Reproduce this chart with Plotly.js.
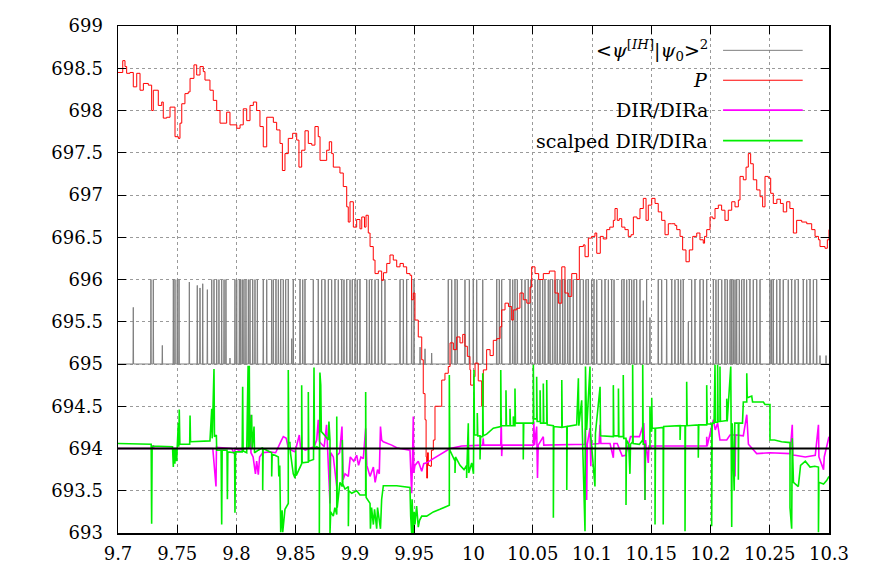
<!DOCTYPE html>
<html>
<head>
<meta charset="utf-8">
<script src="https://cdn.plot.ly/plotly-3.0.1.min.js"></script>
<style>html,body{margin:0;padding:0;background:#fff;}#chart{width:872px;height:580px;}</style>
</head>
<body>
<div id="chart"></div>
<script>
// ---------- data ----------
var xTickVals = [9.7, 9.75, 9.8, 9.85, 9.9, 9.95, 10, 10.05, 10.1, 10.15, 10.2, 10.25, 10.3];
var xTickText = ["9.7", "9.75", "9.8", "9.85", "9.9", "9.95", "10", "10.05", "10.1", "10.15", "10.2", "10.25", "10.3"];
var yTickVals = [693, 693.5, 694, 694.5, 695, 695.5, 696, 696.5, 697, 697.5, 698, 698.5, 699];
var yTickText = ["693", "693.5", "694", "694.5", "695", "695.5", "696", "696.5", "697", "697.5", "698", "698.5", "699"];

var seriesNames = ["&lt;<i>ψ</i><sup>[<i>IH</i>]</sup>|<i>ψ</i><sub>0</sub>&gt;<sup>2</sup>", "<i>P</i>", "DIR/DIRa", "scalped DIR/DIRa"];

// gray: overlap spikes (time, peak); baseline level
var grayBase = 695;
var grayT = [
 9.7129, 9.7278, 9.7298, 9.7374, 9.7467, 9.7481, 9.7500, 9.7515, 9.7602, 9.7669,
 9.7692, 9.7715, 9.7754, 9.7791, 9.7810, 9.7833, 9.7852, 9.7875, 9.7895, 9.7911,
 9.7945, 9.7987, 9.8002, 9.8024, 9.8035, 9.8049, 9.8063, 9.8080, 9.8100, 9.8114,
 9.8137, 9.8156, 9.8176, 9.8226, 9.8255, 9.8297, 9.8311, 9.8333, 9.8353, 9.8373,
 9.8395, 9.8415, 9.8437, 9.8466, 9.8479, 9.8536, 9.8559, 9.8578, 9.8648, 9.8690,
 9.8719, 9.8747, 9.8775, 9.8803, 9.8831, 9.8859, 9.8888, 9.8907, 9.8930, 9.8958,
 9.8977, 9.9000, 9.9019, 9.9042, 9.9099, 9.9121, 9.9141, 9.9169, 9.9197, 9.9225,
 9.9253, 9.9380, 9.9408, 9.9436, 9.9478, 9.9498, 9.9549, 9.9591, 9.9647, 9.9787,
 9.9816, 9.9844, 9.9863, 9.9928, 9.9965, 9.9998, 10.0027, 10.0078, 10.0196, 10.0218,
 10.0238, 10.0308, 10.0331, 10.0350, 10.0370, 10.0407, 10.0435, 10.0462, 10.0483, 10.0519,
 10.0542, 10.0561, 10.0584, 10.0603, 10.0631, 10.0646, 10.0668, 10.0688, 10.0707, 10.0730,
 10.0753, 10.0772, 10.0795, 10.0814, 10.0842, 10.0871, 10.0899, 10.0927, 10.0949, 10.0969,
 10.0997, 10.1017, 10.1040, 10.1082, 10.1110, 10.1138, 10.1166, 10.1186, 10.1251, 10.1270,
 10.1293, 10.1315, 10.1335, 10.1354, 10.1377, 10.1405, 10.1433, 10.1461, 10.1489, 10.1559,
 10.1588, 10.1630, 10.1673, 10.1700, 10.1728, 10.1749, 10.1770, 10.1813, 10.1841, 10.1869,
 10.1911, 10.1939, 10.1968, 10.2024, 10.2046, 10.2066, 10.2095, 10.2122, 10.2142, 10.2165,
 10.2179, 10.2192, 10.2207, 10.2221, 10.2243, 10.2263, 10.2283, 10.2305, 10.2333, 10.2361,
 10.2390, 10.2418, 10.2502, 10.2516, 10.2530, 10.2559, 10.2586, 10.2614, 10.2656, 10.2685,
 10.2713, 10.2741, 10.2783, 10.2812, 10.2840, 10.2868, 10.2896, 10.2924, 10.2975
];
var grayH = [
 695.67, 696, 696, 695.22, 696, 696, 696, 696, 695.97, 695.93,
 695.9, 695.95, 695.88, 696, 696, 696, 696, 696, 696, 696,
 695.07, 696, 696, 696, 696, 696, 696, 696, 696, 696,
 696, 696, 696, 696, 696, 696, 696, 696, 696, 696,
 696, 696, 696, 695.3, 696, 696, 696, 696, 696, 696,
 696, 696, 696, 696, 696, 696, 696, 696, 696, 696,
 696, 696, 696, 696, 696, 696, 696, 696, 696, 696,
 696, 696, 696, 696, 696, 696, 695.2, 695.18, 695.13, 696,
 696, 696, 696, 696, 696, 696, 696, 696, 696, 696,
 696, 696, 696, 696, 696, 696, 696, 696, 696, 696,
 696, 696, 696, 696, 696, 696, 696, 696, 696, 696,
 696, 696, 696, 696, 696, 696, 696, 696, 696, 696,
 696, 696, 696, 696, 696, 696, 696, 696, 696, 696,
 696, 696, 696, 696, 696, 696, 695.75, 696, 695.55, 696,
 696, 696, 696, 696, 696, 696, 696, 695.5, 696, 696,
 696, 696, 696, 696, 696, 696, 696, 696, 696, 696,
 696, 696, 696, 696, 696, 696, 696, 696, 696, 696,
 696, 696, 696, 696, 696, 696, 696, 696, 696, 696,
 696, 696, 696, 696, 696, 696, 696, 695.1, 695.1
];

// red: P
var pX = [
 9.7000, 9.7040, 9.7059, 9.7073, 9.7101, 9.7129, 9.7158, 9.7186, 9.7214, 9.7256,
 9.7284, 9.7298, 9.7340, 9.7369, 9.7382, 9.7411, 9.7439, 9.7481, 9.7509, 9.7523,
 9.7538, 9.7565, 9.7593, 9.7608, 9.7641, 9.7664, 9.7692, 9.7720, 9.7734, 9.7776,
 9.7804, 9.7833, 9.7861, 9.7917, 9.7945, 9.8002, 9.8030, 9.8057, 9.8086, 9.8114,
 9.8142, 9.8170, 9.8198, 9.8226, 9.8255, 9.8311, 9.8339, 9.8367, 9.8387, 9.8409,
 9.8437, 9.8474, 9.8508, 9.8527, 9.8550, 9.8578, 9.8606, 9.8635, 9.8662, 9.8690,
 9.8705, 9.8761, 9.8783, 9.8803, 9.8817, 9.8873, 9.8901, 9.8930, 9.8943, 9.8958,
 9.8986, 9.9014, 9.9042, 9.9057, 9.9080, 9.9093, 9.9112, 9.9127, 9.9154, 9.9169,
 9.9197, 9.9225, 9.9240, 9.9268, 9.9295, 9.9323, 9.9352, 9.9380, 9.9408, 9.9436,
 9.9464, 9.9478, 9.9492, 9.9506, 9.9534, 9.9563, 9.9576, 9.9591, 9.9600, 9.9605,
 9.9612, 9.9619, 9.9633, 9.9645, 9.9661, 9.9675, 9.9703, 9.9732, 9.9759, 9.9787,
 9.9802, 9.9830, 9.9858, 9.9886, 9.9909, 9.9928, 9.9948, 9.9970, 9.9976, 10.0000,
 10.0013, 10.0040, 10.0069, 10.0083, 10.0111, 10.0140, 10.0167, 10.0196, 10.0224, 10.0238,
 10.0266, 10.0295, 10.0322, 10.0336, 10.0365, 10.0392, 10.0420, 10.0450, 10.0477, 10.0491,
 10.0519, 10.0550, 10.0589, 10.0640, 10.0688, 10.0716, 10.0745, 10.0772, 10.0800, 10.0829,
 10.0871, 10.0893, 10.0927, 10.0941, 10.0969, 10.0997, 10.1025, 10.1040, 10.1070, 10.1095,
 10.1124, 10.1150, 10.1180, 10.1194, 10.1213, 10.1230, 10.1251, 10.1278, 10.1306, 10.1330,
 10.1349, 10.1380, 10.1405, 10.1433, 10.1456, 10.1475, 10.1504, 10.1532, 10.1559, 10.1588,
 10.1616, 10.1644, 10.1673, 10.1700, 10.1715, 10.1743, 10.1765, 10.1793, 10.1821, 10.1850,
 10.1884, 10.1911, 10.1939, 10.1950, 10.1968, 10.1996, 10.2020, 10.2038, 10.2066, 10.2094,
 10.2122, 10.2150, 10.2179, 10.2207, 10.2235, 10.2249, 10.2277, 10.2300, 10.2319, 10.2339,
 10.2361, 10.2390, 10.2418, 10.2440, 10.2460, 10.2488, 10.2508, 10.2530, 10.2560, 10.2590,
 10.2614, 10.2643, 10.2670, 10.2699, 10.2727, 10.2770, 10.2812, 10.2854, 10.2882, 10.2911,
 10.2924, 10.2966, 10.2986, 10.3000
];
var pY = [
 698.45, 698.59, 698.52, 698.44, 698.45, 698.28, 698.44, 698.24, 698.32, 698.30,
 698.00, 698.24, 698.06, 698.10, 697.91, 697.92, 698.04, 697.69, 697.67, 697.85,
 698.08, 698.20, 698.22, 698.38, 698.54, 698.42, 698.52, 698.46, 698.36, 698.24,
 698.12, 698.00, 697.85, 697.98, 697.83, 697.79, 697.83, 698.02, 697.88, 698.06,
 698.10, 698.00, 697.81, 697.57, 697.92, 697.86, 697.77, 697.61, 697.29, 697.49,
 697.67, 697.73, 697.65, 697.33, 697.53, 697.76, 697.61, 697.59, 697.81, 697.69,
 697.41, 697.53, 697.63, 697.49, 697.33, 697.26, 697.10, 696.86, 696.68, 696.92,
 696.62, 696.71, 696.60, 696.74, 696.62, 696.76, 696.55, 696.39, 696.23, 696.07,
 696.10, 695.99, 696.08, 696.19, 696.29, 696.23, 696.15, 696.19, 696.15, 696.07,
 696.05, 695.76, 695.84, 695.52, 695.32, 695.05, 694.65, 694.34, 693.90, 693.65,
 693.95, 693.80, 693.79, 693.98, 694.10, 694.50, 694.50, 694.81, 694.89, 694.97,
 695.25, 695.17, 695.32, 695.25, 695.35, 695.21, 695.09, 694.93, 694.75, 694.85,
 695.01, 694.80, 694.50, 694.93, 695.17, 695.10, 695.28, 695.30, 695.44, 695.64,
 695.72, 695.68, 695.52, 695.64, 695.66, 695.84, 695.76, 695.72, 695.91, 696.15,
 696.07, 696.00, 696.07, 696.10, 695.84, 695.72, 696.15, 695.84, 695.80, 696.07,
 696.00, 696.39, 696.41, 696.27, 696.49, 696.51, 696.55, 696.31, 696.51, 696.48,
 696.59, 696.62, 696.70, 696.84, 696.70, 696.72, 696.62, 696.59, 696.51, 696.53,
 696.74, 696.72, 696.84, 696.96, 696.70, 696.88, 696.96, 696.90, 696.80, 696.70,
 696.53, 696.66, 696.66, 696.64, 696.59, 696.51, 696.35, 696.21, 696.35, 696.51,
 696.55, 696.47, 696.43, 696.51, 696.59, 696.74, 696.72, 696.84, 696.88, 696.82,
 696.70, 696.82, 696.92, 696.86, 696.94, 697.22, 697.18, 697.33, 697.49, 697.37,
 697.18, 697.06, 696.98, 696.86, 697.22, 697.20, 697.02, 696.90, 696.95, 696.90,
 696.80, 696.92, 696.84, 696.55, 696.70, 696.68, 696.66, 696.59, 696.51, 696.47,
 696.39, 696.37, 696.47, 696.59
];

// magenta: DIR/DIRa
var dirX = [
 9.7000, 9.7290, 9.7298, 9.7302, 9.7800, 9.7827, 9.7831, 9.7850, 9.7960, 9.7980,
 9.7990, 9.8020, 9.8108, 9.8117, 9.8122, 9.8140, 9.8150, 9.8160, 9.8170, 9.8184,
 9.8195, 9.8221, 9.8280, 9.8330, 9.8380, 9.8395, 9.8420, 9.8437, 9.8465, 9.8494,
 9.8530, 9.8540, 9.8580, 9.8620, 9.8654, 9.8677, 9.8690, 9.8700, 9.8720, 9.8740,
 9.8760, 9.8770, 9.8789, 9.8795, 9.8817, 9.8846, 9.8850, 9.8870, 9.8890, 9.8900,
 9.8916, 9.8944, 9.8960, 9.8990, 9.9014, 9.9030, 9.9050, 9.9070, 9.9090, 9.9100,
 9.9127, 9.9155, 9.9170, 9.9190, 9.9205, 9.9215, 9.9225, 9.9239, 9.9280, 9.9310,
 9.9352, 9.9380, 9.9464, 9.9470, 9.9478, 9.9485, 9.9492, 9.9496, 9.9506, 9.9534,
 9.9550, 9.9563, 9.9580, 9.9605, 9.9661, 9.9717, 9.9760, 9.9802, 9.9900, 10.0000,
 10.0078, 10.0082, 10.0086, 10.0230, 10.0234, 10.0238, 10.0242, 10.0505, 10.0509, 10.0515,
 10.0533, 10.0540, 10.0546, 10.0589, 10.0593, 10.0941, 10.0945, 10.0955, 10.0960, 10.0983,
 10.0990, 10.0995, 10.1060, 10.1068, 10.1075, 10.1100, 10.1152, 10.1180, 10.1185, 10.1213,
 10.1255, 10.1283, 10.1325, 10.1400, 10.1437, 10.1441, 10.1447, 10.1452, 10.1475, 10.1480,
 10.1700, 10.1785, 10.1968, 10.1968, 10.1972, 10.2024, 10.2040, 10.2060, 10.2080, 10.2137,
 10.2165, 10.2207, 10.2207, 10.2212, 10.2277, 10.2306, 10.2320, 10.2334, 10.2390, 10.2500,
 10.2600, 10.2671, 10.2690, 10.2695, 10.2713, 10.2800, 10.2884, 10.2911, 10.2915, 10.2954,
 10.2960, 10.3000
];
var dirY = [
 694.00, 694.00, 694.04, 694.00, 694.00, 693.55, 694.02, 694.01, 694.00, 693.94,
 694.00, 693.98, 694.01, 694.40, 693.95, 693.90, 693.80, 693.70, 693.85, 693.69,
 693.90, 693.95, 693.96, 693.95, 694.10, 694.14, 694.12, 694.00, 693.98, 693.96,
 694.16, 694.02, 693.98, 694.00, 694.02, 694.10, 694.34, 694.08, 694.05, 694.02,
 694.28, 694.00, 693.35, 693.95, 693.90, 693.55, 693.92, 693.95, 694.26, 693.63,
 693.70, 693.67, 693.90, 693.85, 693.92, 693.80, 693.90, 693.88, 694.24, 693.80,
 693.67, 693.78, 693.60, 693.75, 693.70, 694.26, 694.10, 694.08, 694.06, 694.04,
 694.01, 694.00, 693.98, 693.79, 693.47, 693.85, 694.38, 693.71, 693.80, 693.85,
 693.78, 693.73, 693.82, 693.83, 693.88, 693.93, 693.96, 694.00, 694.03, 694.04,
 694.04, 694.12, 694.04, 694.04, 694.36, 693.91, 694.04, 694.04, 694.32, 694.04,
 694.26, 693.65, 694.04, 694.14, 694.04, 694.05, 694.24, 693.39, 694.05, 694.24,
 693.79, 694.05, 694.06, 694.28, 694.06, 694.06, 694.06, 693.89, 694.06, 694.06,
 693.91, 693.92, 694.14, 694.14, 694.30, 694.14, 693.39, 694.10, 693.83, 694.03,
 694.03, 694.03, 694.03, 694.14, 694.03, 694.34, 694.22, 694.30, 694.10, 694.10,
 694.16, 694.16, 693.67, 694.16, 694.15, 694.40, 694.05, 694.03, 693.94, 693.95,
 693.94, 693.94, 694.28, 693.92, 693.92, 693.90, 693.92, 694.28, 693.90, 693.75,
 693.90, 694.14
];

// green: scalped DIR/DIRa
var scX = [
 9.7000, 9.7280, 9.7284, 9.7288, 9.7460, 9.7467, 9.7471, 9.7480, 9.7485, 9.7495,
 9.7500, 9.7509, 9.7513, 9.7517, 9.7522, 9.7605, 9.7608, 9.7612, 9.7776, 9.7791,
 9.7795, 9.7810, 9.7814, 9.7830, 9.7833, 9.7870, 9.7875, 9.7879, 9.7920, 9.7923,
 9.7927, 9.7984, 9.7987, 9.7992, 9.8048, 9.8052, 9.8056, 9.8086, 9.8098, 9.8102,
 9.8108, 9.8112, 9.8128, 9.8132, 9.8148, 9.8152, 9.8184, 9.8221, 9.8221, 9.8225,
 9.8255, 9.8297, 9.8297, 9.8301, 9.8325, 9.8353, 9.8357, 9.8365, 9.8373, 9.8380,
 9.8385, 9.8390, 9.8400, 9.8409, 9.8437, 9.8437, 9.8441, 9.8451, 9.8455, 9.8479,
 9.8494, 9.8500, 9.8504, 9.8550, 9.8550, 9.8554, 9.8606, 9.8606, 9.8610, 9.8650,
 9.8654, 9.8658, 9.8677, 9.8699, 9.8699, 9.8704, 9.8711, 9.8716, 9.8747, 9.8775,
 9.8780, 9.8789, 9.8789, 9.8795, 9.8817, 9.8830, 9.8846, 9.8846, 9.8850, 9.8873,
 9.8893, 9.8893, 9.8897, 9.8916, 9.8944, 9.8944, 9.8948, 9.8972, 9.9014, 9.9042,
 9.9090, 9.9090, 9.9094, 9.9127, 9.9130, 9.9140, 9.9155, 9.9165, 9.9183, 9.9190,
 9.9215, 9.9225, 9.9239, 9.9352, 9.9464, 9.9470, 9.9478, 9.9482, 9.9492, 9.9500,
 9.9506, 9.9520, 9.9534, 9.9545, 9.9563, 9.9605, 9.9661, 9.9717, 9.9796, 9.9796,
 9.9800, 9.9844, 9.9844, 9.9848, 9.9886, 9.9920, 9.9942, 9.9942, 9.9956, 9.9960,
 9.9985, 10.0000, 10.0004, 10.0008, 10.0032, 10.0032, 10.0036, 10.0055, 10.0055, 10.0060,
 10.0078, 10.0078, 10.0082, 10.0111, 10.0167, 10.0230, 10.0230, 10.0234, 10.0252, 10.0274,
 10.0274, 10.0278, 10.0308, 10.0308, 10.0312, 10.0336, 10.0336, 10.0340, 10.0350, 10.0350,
 10.0354, 10.0420, 10.0420, 10.0424, 10.0505, 10.0505, 10.0509, 10.0533, 10.0533, 10.0537,
 10.0562, 10.0562, 10.0566, 10.0589, 10.0589, 10.0593, 10.0618, 10.0618, 10.0622, 10.0674,
 10.0674, 10.0678, 10.0745, 10.0745, 10.0749, 10.0787, 10.0787, 10.0791, 10.0871, 10.0885,
 10.0889, 10.0913, 10.0917, 10.0941, 10.0945, 10.0955, 10.0983, 10.0987, 10.1025, 10.1029,
 10.1068, 10.1072, 10.1180, 10.1180, 10.1184, 10.1223, 10.1223, 10.1227, 10.1264, 10.1264,
 10.1268, 10.1287, 10.1287, 10.1291, 10.1310, 10.1320, 10.1325, 10.1343, 10.1343, 10.1347,
 10.1400, 10.1428, 10.1428, 10.1432, 10.1447, 10.1447, 10.1451, 10.1489, 10.1489, 10.1493,
 10.1504, 10.1504, 10.1508, 10.1532, 10.1532, 10.1536, 10.1601, 10.1601, 10.1605, 10.1743,
 10.1743, 10.1747, 10.1785, 10.1785, 10.1789, 10.1799, 10.1799, 10.1803, 10.1897, 10.1897,
 10.1901, 10.1968, 10.1968, 10.1972, 10.2010, 10.2010, 10.2014, 10.2030, 10.2038, 10.2042,
 10.2060, 10.2060, 10.2064, 10.2080, 10.2080, 10.2084, 10.2137, 10.2137, 10.2141, 10.2171,
 10.2175, 10.2179, 10.2183, 10.2200, 10.2205, 10.2235, 10.2235, 10.2239, 10.2270, 10.2277,
 10.2306, 10.2306, 10.2310, 10.2348, 10.2355, 10.2446, 10.2460, 10.2502, 10.2502, 10.2540,
 10.2600, 10.2671, 10.2671, 10.2685, 10.2690, 10.2700, 10.2741, 10.2760, 10.2800, 10.2840,
 10.2880, 10.2911, 10.2911, 10.2915, 10.2954, 10.2980, 10.3000
];
var scY = [
 694.06, 694.05, 693.11, 694.03, 694.02, 693.78, 694.00, 693.82, 694.00, 693.85,
 694.02, 694.30, 694.02, 694.46, 694.05, 694.05, 694.39, 694.08, 694.09, 694.47,
 694.12, 694.94, 694.14, 694.16, 693.98, 693.98, 693.10, 693.98, 693.98, 693.40,
 693.96, 693.95, 693.24, 693.96, 693.96, 694.73, 693.97, 693.95, 694.98, 694.00,
 694.98, 694.02, 694.40, 694.00, 694.26, 693.95, 693.98, 694.01, 693.51, 694.00,
 693.98, 693.95, 693.67, 693.93, 693.92, 693.90, 693.67, 693.80, 693.01, 693.15,
 693.27, 693.01, 693.20, 693.28, 693.35, 694.93, 694.07, 694.07, 693.95, 693.70,
 693.65, 693.98, 693.68, 693.82, 694.75, 693.83, 693.84, 694.67, 693.85, 693.87,
 694.96, 694.00, 694.02, 694.00, 693.00, 694.90, 694.75, 694.20, 694.15, 694.10,
 694.32, 694.10, 693.00, 693.25, 693.20, 693.30, 693.22, 694.38, 693.30, 693.60,
 693.55, 694.10, 693.58, 693.52, 693.55, 693.08, 693.50, 693.47, 693.50, 693.45,
 693.45, 694.67, 693.42, 693.35, 693.05, 693.30, 693.10, 693.28, 693.05, 693.30,
 693.05, 693.40, 693.56, 693.56, 693.54, 693.20, 693.00, 693.40, 693.00, 693.25,
 693.10, 693.32, 693.07, 693.15, 693.20, 693.20, 693.25, 693.28, 693.33, 694.87,
 693.98, 693.85, 693.71, 693.90, 693.80, 693.75, 693.80, 693.65, 694.30, 693.71,
 693.83, 693.70, 694.93, 694.16, 694.16, 694.42, 694.15, 694.15, 693.87, 694.14,
 694.14, 694.89, 694.15, 694.17, 694.24, 694.26, 694.93, 694.27, 694.27, 694.27,
 694.69, 694.27, 694.27, 694.47, 694.27, 694.27, 694.38, 694.27, 694.27, 694.71,
 694.30, 694.30, 693.87, 694.30, 694.30, 694.99, 694.35, 694.35, 694.85, 694.32,
 694.32, 694.69, 694.30, 694.30, 694.77, 694.30, 694.30, 694.81, 694.28, 694.27,
 693.18, 694.26, 694.25, 694.81, 694.25, 694.26, 693.51, 694.26, 694.28, 694.83,
 694.27, 694.57, 694.27, 693.02, 694.97, 694.22, 694.97, 694.20, 693.55, 694.18,
 694.73, 694.15, 694.14, 694.75, 694.15, 694.15, 694.71, 694.14, 694.14, 694.87,
 694.12, 694.12, 693.33, 694.10, 694.05, 693.70, 694.05, 694.08, 694.99, 694.06,
 694.05, 694.10, 694.99, 694.05, 694.05, 693.39, 694.00, 694.00, 694.50, 694.22,
 694.20, 694.60, 694.24, 694.24, 693.10, 694.24, 694.25, 693.10, 694.26, 694.27,
 694.10, 694.27, 694.27, 693.02, 694.27, 694.27, 694.79, 694.27, 694.28, 693.89,
 694.28, 694.28, 694.75, 694.29, 694.29, 693.08, 694.30, 694.30, 694.99, 694.31,
 694.31, 694.99, 694.32, 694.32, 694.97, 694.32, 694.33, 694.59, 694.32, 694.97,
 694.30, 693.07, 694.30, 693.50, 694.30, 694.30, 693.63, 694.30, 694.30, 694.55,
 694.55, 694.89, 694.60, 694.62, 694.55, 694.55, 694.52, 694.52, 694.10, 694.10,
 694.08, 694.07, 693.30, 693.05, 694.12, 693.60, 693.55, 693.80, 693.85, 693.78,
 693.79, 693.78, 693.01, 693.60, 693.58, 693.62, 693.67
];

// black reference level
var refX = [9.7, 10.3];
var refY = [694, 694];

// ---------- build traces ----------
var spikeHalfWidth = 0.00025;
var gX = [9.7], gY = [grayBase];
var nG = Math.min(grayT.length, grayH.length);
for (var i = 0; i < nG; i++) {
  gX.push(grayT[i] - spikeHalfWidth, grayT[i], grayT[i] + spikeHalfWidth);
  gY.push(grayBase, grayH[i], grayBase);
}
gX.push(10.3); gY.push(grayBase);

var traces = [
  {x: gX, y: gY, mode: 'lines', line: {color: '#7f7f7f', width: 1}, showlegend: false, hoverinfo: 'skip'},
  {x: pX, y: pY, mode: 'lines', line: {color: '#ff0000', width: 1, shape: 'hv'}, showlegend: false},
  {x: dirX, y: dirY, mode: 'lines', line: {color: '#ff00ff', width: 1.6}, showlegend: false},
  {x: scX, y: scY, mode: 'lines', line: {color: '#00ee00', width: 1.6}, showlegend: false},
  {x: refX, y: refY, mode: 'lines', line: {color: '#000000', width: 1.8}, showlegend: false}
];

var font = 'DejaVu Serif';
var legendColors = ['#7f7f7f', '#ff0000', '#ff00ff', '#00ee00'];
var legendRowsY = [0.952, 0.893, 0.834, 0.774];
var annotations = [], shapes = [];
shapes.push({type: 'rect', xref: 'paper', yref: 'paper', x0: 0.52, x1: 0.998, y0: 0.745, y1: 0.998,
  fillcolor: '#ffffff', line: {width: 0}, layer: 'between'});
for (var k = 0; k < seriesNames.length; k++) {
  annotations.push({xref: 'paper', yref: 'paper', x: 0.832, y: legendRowsY[k], xanchor: 'right', yanchor: 'middle',
    text: seriesNames[k], showarrow: false, font: {family: font, size: 19, color: '#000'}});
  shapes.push({type: 'line', xref: 'paper', yref: 'paper', x0: 0.851, x1: 0.963, y0: legendRowsY[k], y1: legendRowsY[k],
    line: {color: legendColors[k], width: (k >= 2 ? 1.6 : 1)}, layer: 'above'});
}

var axisCommon = {
  showline: true, linecolor: '#000', linewidth: 1.5, mirror: 'ticks',
  ticks: 'inside', ticklen: 8, tickwidth: 1, tickcolor: '#000',
  showgrid: true, gridcolor: '#9a9a9a', gridwidth: 1, griddash: 'dot',
  zeroline: false, tickmode: 'array',
  tickfont: {family: font, size: 18, color: '#000'}
};
var layout = {
  width: 872, height: 580,
  margin: {l: 118, r: 43, t: 26, b: 47},
  paper_bgcolor: '#fff', plot_bgcolor: '#fff',
  font: {family: font, size: 18, color: '#000'},
  showlegend: false,
  xaxis: Object.assign({}, axisCommon, {range: [9.7, 10.3], tickvals: xTickVals, ticktext: xTickText, ticklabelstandoff: 4}),
  yaxis: Object.assign({}, axisCommon, {range: [693, 699], tickvals: yTickVals, ticktext: yTickText, ticklabelstandoff: 10}),
  annotations: annotations,
  shapes: shapes
};
Plotly.newPlot('chart', traces, layout, {displayModeBar: false, staticPlot: true});
</script>
</body>
</html>
